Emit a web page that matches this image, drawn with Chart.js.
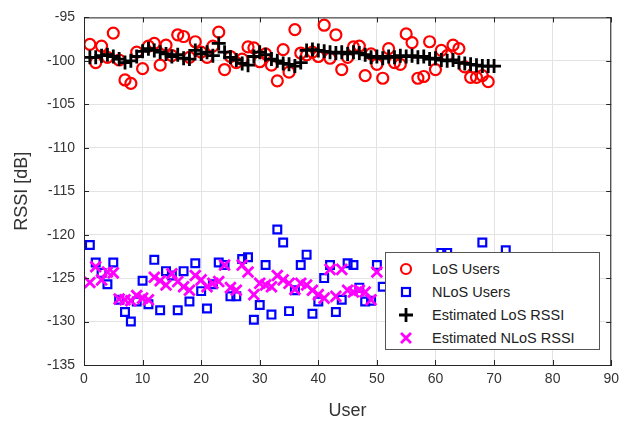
<!DOCTYPE html>
<html>
<head>
<meta charset="utf-8">
<script src="https://cdn.jsdelivr.net/npm/chart.js@4/dist/chart.umd.min.js"></script>
<style>
  body { margin: 0; background: #fff; }
  #wrap { position: relative; width: 625px; height: 426px; }
  #legend {
    position: absolute; left: 385px; top: 252px; width: 213px; height: 96px;
    background: #fff; border: 1.5px solid #555;
    font-family: "Liberation Sans", Arial, sans-serif; font-size: 14.5px; color: #222;
  }
  #legend .row { position: absolute; left: 0; height: 20px; display: flex; align-items: center; }
  #legend svg { margin-left: 13px; margin-right: 19px; }
</style>
</head>
<body>
<div id="wrap">
  <canvas id="rssiChart" width="625" height="426"></canvas>
  <div id="legend">
    <div class="row" style="top:6px"><svg width="14" height="14"><circle cx="7" cy="7" r="5" fill="none" stroke="#ff0000" stroke-width="2.2"/></svg>LoS Users</div>
    <div class="row" style="top:29px"><svg width="14" height="14"><rect x="3" y="3" width="8" height="8" fill="none" stroke="#0000ff" stroke-width="2.2"/></svg>NLoS Users</div>
    <div class="row" style="top:52px"><svg width="14" height="14"><path d="M7 0V14M0 7H14" stroke="#000" stroke-width="2.8"/></svg>Estimated LoS RSSI</div>
    <div class="row" style="top:75px"><svg width="14" height="14"><path d="M2 2L12 12M12 2L2 12" stroke="#ff00ff" stroke-width="2.8"/></svg>Estimated NLoS RSSI</div>
  </div>
</div>
<script>
// measured RSSI of LoS users, users 1..69
const losUsers = [
  -98.1, -100.2, -98.3, -99.6, -96.8, -99.9, -102.2, -102.6, -99.0, -100.9,
  -98.3, -98.0, -100.5, -98.2, -99.4, -97.0, -97.2, -99.6, -97.8, -99.0,
  -99.6, -98.3, -96.7, -101.0, -99.5, -100.2, -99.8, -98.4, -98.5, -100.1,
  -99.2, -100.5, -102.3, -98.7, -101.3, -96.4, -99.1, -99.3, -99.0, -99.5,
  -95.9, -99.7, -97.0, -101.0, -99.6, -98.4, -98.3, -101.7, -99.2, -100.4,
  -102.0, -98.6, -100.2, -100.4, -96.9, -97.9, -102.0, -101.8, -97.8, -101.0,
  -98.8, -99.4, -98.2, -98.6, -100.7, -101.9, -101.9, -101.7, -102.4
];

// estimated LoS RSSI, users 1..70
const estLos = [
  -99.6, -99.6, -99.4, -99.3, -99.5, -99.8, -100.2, -100.0, -99.5, -98.9,
  -98.6, -98.8, -99.0, -99.2, -99.5, -99.3, -99.7, -99.8, -98.8, -99.2,
  -99.0, -99.4, -98.0, -99.0, -99.6, -99.9, -100.3, -100.5, -99.5, -99.0,
  -99.3, -99.8, -100.0, -100.3, -100.4, -100.6, -100.2, -98.8, -98.7, -98.8,
  -98.9, -99.0, -99.1, -99.0, -99.2, -99.0, -99.1, -99.3, -99.6, -99.5,
  -99.7, -99.5, -99.6, -99.4, -99.5, -99.4, -99.6, -99.5, -99.8, -99.7,
  -99.9, -100.0, -99.9, -100.2, -100.3, -100.4, -100.5, -100.6, -100.6, -100.6
];

// measured RSSI of NLoS users (only the ones not hidden by the legend)
const nlosUser = [
  1, 2, 3, 4, 5, 6, 7, 8, 9, 10, 11, 12, 13, 14, 15, 16, 17, 18, 19, 20,
  21, 22, 23, 24, 25, 26, 27, 28, 29, 30, 31, 32, 33, 34, 35, 36, 37, 38, 39, 40,
  41, 42, 43, 44, 45, 46, 47, 48, 49, 50, 51, 61, 62, 68, 72
];
const nlosRssi = [
  -121.2, -123.2, -124.4, -125.7, -123.2, -127.5, -128.9, -130.0, -127.7, -125.3,
  -128.0, -122.9, -128.7, -124.2, -124.7, -128.7, -124.2, -127.7, -123.3, -126.5,
  -128.5, -125.7, -123.2, -123.5, -127.1, -127.1, -122.8, -122.6, -129.8, -128.1,
  -123.5, -129.2, -119.4, -120.9, -128.8, -126.4, -123.5, -122.3, -129.1, -127.7,
  -125.0, -123.5, -128.9, -127.5, -123.3, -123.5, -126.1, -127.7, -127.6, -123.5,
  -126.0, -122.1, -122.1, -120.9, -121.8
];

// estimated NLoS RSSI, users 1..50
const estNlos = [
  -125.5, -123.7, -125.2, -124.3, -124.4, -127.4, -127.5, -127.6, -127.0, -127.3,
  -127.5, -124.9, -125.3, -125.8, -124.5, -125.4, -126.0, -126.4, -124.7, -125.2,
  -126.0, -125.6, -125.4, -123.5, -126.1, -126.4, -123.5, -124.3, -126.9, -125.6,
  -125.8, -126.0, -124.7, -125.2, -125.6, -126.3, -125.6, -125.8, -126.4, -126.9,
  -127.3, -124.0, -127.1, -124.0, -126.4, -126.6, -126.4, -126.6, -127.5, -124.3
];

const yTicks = [-95, -100, -105, -110, -115, -120, -125, -130, -135];

function byUser(values) {
  return values.map(function(v, i) { return { x: i + 1, y: v }; });
}

const FONT = '"Liberation Sans", Arial, sans-serif';

// MATLAB style box around the axes, with short inward tick marks
const boxPlugin = {
  id: 'box',
  afterDatasetsDraw: function(chart) {
    const a = chart.chartArea;
    const c = chart.ctx;
    const xs = chart.scales.x, ys = chart.scales.y;
    c.save();
    c.strokeStyle = '#262626';
    c.lineWidth = 1;
    c.beginPath();
    xs.ticks.forEach(function(t) {
      const px = Math.round(xs.getPixelForValue(t.value)) + 0.5;
      c.moveTo(px, a.bottom); c.lineTo(px, a.bottom - 5);
      c.moveTo(px, a.top); c.lineTo(px, a.top + 5);
    });
    ys.ticks.forEach(function(t) {
      const py = Math.round(ys.getPixelForValue(t.value)) + 0.5;
      c.moveTo(a.left, py); c.lineTo(a.left + 5, py);
      c.moveTo(a.right, py); c.lineTo(a.right - 5, py);
    });
    c.stroke();
    c.strokeRect(a.left + 0.5, a.top + 0.5, a.right - a.left - 1, a.bottom - a.top);
    c.restore();
  }
};

new Chart(document.getElementById('rssiChart').getContext('2d'), {
  type: 'scatter',
  data: {
    datasets: [
      {
        label: 'Estimated LoS RSSI',
        data: byUser(estLos),
        pointStyle: 'cross', radius: 7, borderWidth: 2.8,
        borderColor: '#000000', backgroundColor: '#000000', order: 0
      },
      {
        label: 'Estimated NLoS RSSI',
        data: byUser(estNlos),
        pointStyle: 'crossRot', radius: 7.5, borderWidth: 2.8,
        borderColor: '#ff00ff', backgroundColor: '#ff00ff', order: 0
      },
      {
        label: 'LoS Users',
        data: byUser(losUsers),
        pointStyle: 'circle', radius: 5.5, borderWidth: 2.2,
        borderColor: '#ff0000', backgroundColor: 'rgba(0,0,0,0)', order: 1
      },
      {
        label: 'NLoS Users',
        data: nlosUser.map(function(u, i) { return { x: u, y: nlosRssi[i] }; }),
        pointStyle: 'rect', radius: 5.5, borderWidth: 2.2,
        borderColor: '#0000ff', backgroundColor: 'rgba(0,0,0,0)', order: 1
      }
    ]
  },
  options: {
    responsive: false,
    animation: false,
    layout: { padding: { top: 13, right: 10, left: 0, bottom: 0 } },
    plugins: {
      legend: { display: false },
      tooltip: { enabled: false }
    },
    scales: {
      x: {
        type: 'linear', min: 0, max: 90,
        afterFit: function(s) { s.height = 61; },
        ticks: { stepSize: 10, padding: 6, color: '#333', font: { family: FONT, size: 14 } },
        grid: { color: '#e3e3e3', drawTicks: false },
        border: { color: '#262626' },
        title: { display: true, text: 'User', color: '#333', font: { family: FONT, size: 18 }, padding: { top: 0, bottom: 4 } }
      },
      y: {
        type: 'linear', min: -135, max: -95,
        afterFit: function(s) { s.width = 84; },
        afterBuildTicks: function(s) { s.ticks = yTicks.map(function(v) { return { value: v }; }); },
        ticks: { padding: 9, color: '#333', font: { family: FONT, size: 14 } },
        grid: { color: '#e3e3e3', drawTicks: false },
        border: { color: '#262626' },
        title: { display: true, text: 'RSSI [dB]', color: '#333', font: { family: FONT, size: 18 }, padding: { top: 11, bottom: 0 } }
      }
    }
  },
  plugins: [boxPlugin]
});
</script>
</body>
</html>
